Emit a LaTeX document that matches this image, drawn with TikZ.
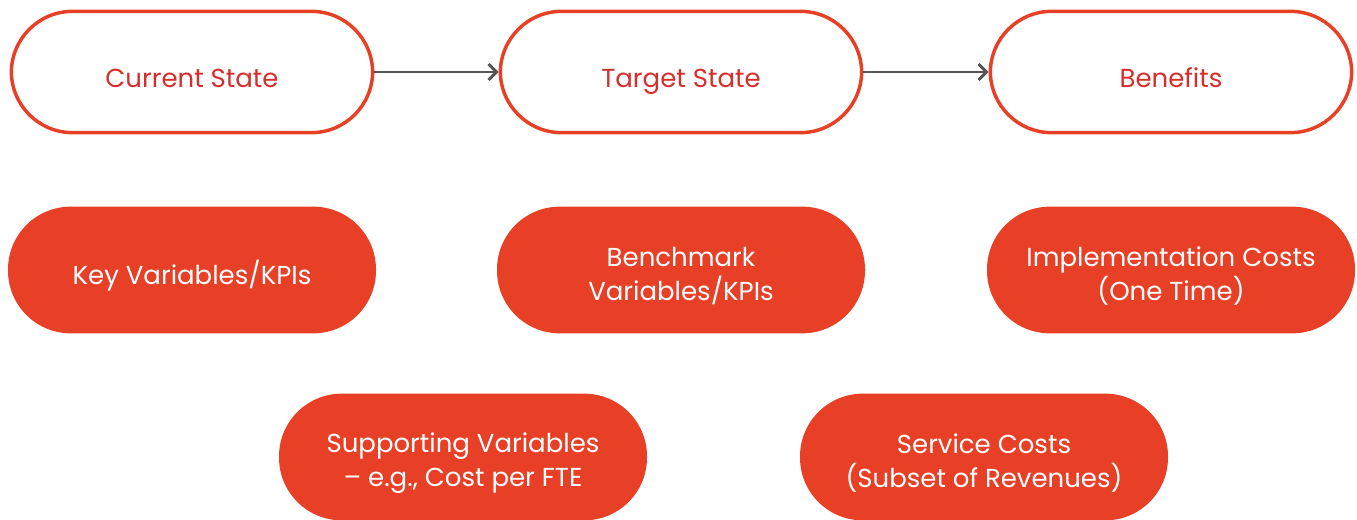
\documentclass[tikz,border=0pt]{standalone}
\usepackage{fontspec}
\setmainfont{Poppins}
\usepackage{tikz}
\usetikzlibrary{arrows.meta}
\usetikzlibrary{positioning}
\definecolor{pillred}{RGB}{232,64,38}
\definecolor{textred}{RGB}{214,46,44}
\definecolor{arrowgray}{RGB}{85,85,85}
\tikzset{
    statebox/.style={draw=pillred, line width=2.6pt, fill=white, rounded corners=46pt,
        minimum width=271pt, minimum height=91pt},
    statetext/.style={text=textred, font=\fontsize{19.5}{25}\selectfont,
        text height=14pt, text depth=4pt, yshift=-7pt, inner sep=0pt},
    factorbox/.style={fill=pillred, rounded corners=47pt,
        minimum width=276pt, minimum height=95pt},
    factortext/.style={text=white, font=\fontsize{19.5}{25}\selectfont,
        align=center, yshift=-4.5pt, inner sep=0pt},
    flowarrow/.style={draw=arrowgray, line width=1.5pt,
        -{Straight Barb[length=6pt, width=12pt, line width=2.2pt]}},
}
\begin{document}
\begin{tikzpicture}[x=0.75pt, y=-0.75pt]
	\useasboundingbox (0,0) rectangle (1357,520);
	% top row
	\node[statebox, label={[statetext]center:Current State}] (current) at (192,72) {};
	\node[statebox, label={[statetext]center:Target State}] (target) at (681,72) {};
	\node[statebox, label={[statetext]center:Benefits}] (benefits) at (1171,72) {};
	\draw[flowarrow] (current) -- (target);
	\draw[flowarrow] (target) -- (benefits);
	% second row
	\node[factorbox, label={[factortext]center:Key Variables/KPIs}] (kpis) at (192,270) {};
	\node[factorbox, label={[factortext]center:{Benchmark\\Variables/KPIs}}] (bench) at (681,270) {};
	\node[factorbox, label={[factortext]center:{Implementation Costs\\(One Time)}}] (impl) at (1171,270) {};
	% third row
	\node[factorbox, label={[factortext]center:{Supporting Variables\\– e.g., Cost per FTE}}] (support) at (463,457) {};
	\node[factorbox, label={[factortext]center:{Service Costs\\(Subset of Revenues)}}] (service) at (984,457) {};
\end{tikzpicture}
\end{document}
